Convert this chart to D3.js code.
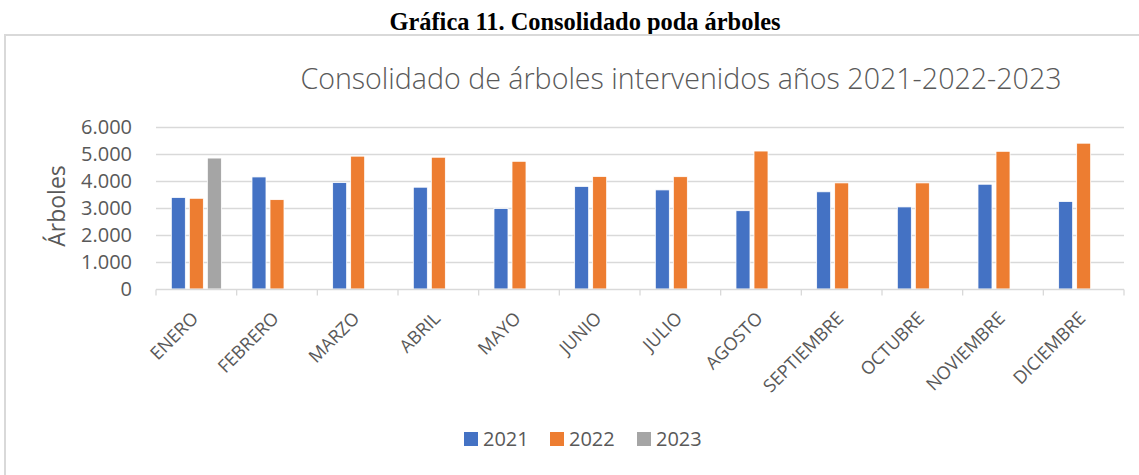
<!DOCTYPE html>
<html>
<head>
<meta charset="utf-8">
<script src="https://cdn.jsdelivr.net/npm/d3@7"></script>
<style>
  body { margin: 0; background: #fff; }
  svg { display: block; }
  .grid line { stroke: #d9d9d9; stroke-width: 1.3; }
  .tick text { fill: #595959; }
</style>
</head>
<body>
<div id="chart"></div>
<script>

/*
 * Chart data.
 */

var months = ['ENERO', 'FEBRERO', 'MARZO', 'ABRIL', 'MAYO', 'JUNIO', 'JULIO',
  'AGOSTO', 'SEPTIEMBRE', 'OCTUBRE', 'NOVIEMBRE', 'DICIEMBRE'];
var years = ['2021', '2022', '2023'];
var values2021 = [3390, 4150, 3940, 3770, 2980, 3800, 3670, 2900, 3600, 3040, 3880, 3240];
var values2022 = [3360, 3310, 4920, 4880, 4730, 4170, 4160, 5110, 3930, 3930, 5100, 5400];
var values2023 = [4850, null, null, null, null, null, null, null, null, null, null, null];
var yTicks = [0, 1000, 2000, 3000, 4000, 5000, 6000];
var colors = ['#4472C4', '#ED7D31', '#A5A5A5'];

var width = 1139;
var height = 475;

// Plot area.
var plot = { left: 156, right: 1124, top: 127, bottom: 289 };

var svg = d3.select('#chart').append('svg:svg')
  .attr('width', width)
  .attr('height', height);

// Page caption above the chart box.
svg.append('svg:text')
  .attr('x', 585)
  .attr('y', 30)
  .attr('text-anchor', 'middle')
  .style('font-family', '"Liberation Serif", "Times New Roman", serif')
  .style('font-weight', 'bold')
  .style('font-size', '24.4px')
  .text('Gráfica 11. Consolidado poda árboles');

// Chart box.
svg.append('svg:rect')
  .attr('x', 5)
  .attr('y', 35)
  .attr('width', 1145)
  .attr('height', 450)
  .attr('fill', 'none')
  .attr('stroke', '#d9d9d9')
  .attr('stroke-width', 2);

// Chart title.
svg.append('svg:text')
  .attr('x', 681)
  .attr('y', 89)
  .attr('text-anchor', 'middle')
  .style('font-family', '"Open Sans", sans-serif')
  .style('font-weight', 300)
  .style('font-size', '28.6px')
  .style('fill', '#595959')
  .text('Consolidado de árboles intervenidos años 2021-2022-2023');

/*
 * Scales.
 */

var x = d3.scaleBand()
  .domain(months)
  .range([plot.left, plot.right]);

var xInner = d3.scaleBand()
  .domain(years)
  .range([0, x.bandwidth()])
  .paddingInner(0.222)
  .paddingOuter(0.85);

var y = d3.scaleLinear()
  .domain([0, 6000])
  .range([plot.bottom, plot.top]);

var fmt = function(d) {
  return d3.format(',')(d).replace(/,/g, '.');
};

// Gridlines.
svg.append('svg:g')
  .attr('class', 'grid')
  .selectAll('line')
  .data(yTicks.filter(function(d) { return d > 0; }))
  .enter().append('svg:line')
  .attr('x1', plot.left)
  .attr('x2', plot.right)
  .attr('y1', function(d) { return Math.round(y(d)) + 0.5; })
  .attr('y2', function(d) { return Math.round(y(d)) + 0.5; });

// Y axis labels.
var yAxis = svg.append('svg:g')
  .attr('transform', 'translate(' + (plot.left - 24) + ',0)')
  .call(d3.axisLeft(y).tickValues(yTicks).tickFormat(fmt).tickSize(0).tickPadding(0));
yAxis.select('.domain').remove();
yAxis.selectAll('text')
  .style('font-family', '"Open Sans", sans-serif')
  .style('font-size', '20px');

// Y axis title.
svg.append('svg:text')
  .attr('transform', 'translate(65,206) rotate(-90)')
  .attr('text-anchor', 'middle')
  .style('font-family', '"Open Sans", sans-serif')
  .style('font-size', '23px')
  .style('fill', '#595959')
  .text('Árboles');

/*
 * Bars.
 */

var series = [values2021, values2022, values2023];

var groups = svg.append('svg:g')
  .selectAll('g')
  .data(months)
  .enter().append('svg:g')
  .attr('transform', function(d) { return 'translate(' + x(d) + ',0)'; });

groups.selectAll('rect')
  .data(function(m, i) {
    return years.map(function(yr, k) {
      return { year: yr, value: series[k][i], color: colors[k] };
    }).filter(function(d) { return d.value !== null; });
  })
  .enter().append('svg:rect')
  .attr('x', function(d) { return xInner(d.year); })
  .attr('width', xInner.bandwidth())
  .attr('y', function(d) { return y(d.value); })
  .attr('height', function(d) { return y(0) - y(d.value); })
  .attr('fill', function(d) { return d.color; })
  .attr('stroke', '#fff')
  .attr('stroke-width', 0.8);

// X axis line and ticks.
var xAxis = svg.append('svg:g')
  .attr('transform', 'translate(0,' + (plot.bottom + 0.5) + ')');

xAxis.append('svg:line')
  .attr('x1', plot.left)
  .attr('x2', plot.right)
  .attr('stroke', '#d9d9d9')
  .attr('stroke-width', 1.3);

xAxis.selectAll('line.tk')
  .data(months.concat(['end']))
  .enter().append('svg:line')
  .attr('class', 'tk')
  .attr('x1', function(d) { return d === 'end' ? plot.right : x(d); })
  .attr('x2', function(d) { return d === 'end' ? plot.right : x(d); })
  .attr('y1', 0)
  .attr('y2', 6)
  .attr('stroke', '#d9d9d9')
  .attr('stroke-width', 1.3);

// Month labels.
xAxis.selectAll('text')
  .data(months)
  .enter().append('svg:text')
  .attr('transform', function(d) {
    return 'translate(' + (x(d) + x.bandwidth() / 2 + 3) + ',30) rotate(-45)';
  })
  .attr('text-anchor', 'end')
  .style('font-family', '"Open Sans", sans-serif')
  .style('font-size', '18px')
  .style('fill', '#595959')
  .text(function(d) { return d; });

/*
 * Legend.
 */

var legendX = [464, 550, 637];

var legend = svg.append('svg:g')
  .selectAll('g')
  .data(years)
  .enter().append('svg:g')
  .attr('transform', function(d, i) { return 'translate(' + legendX[i] + ',432)'; });

legend.append('svg:rect')
  .attr('width', 14)
  .attr('height', 14)
  .attr('fill', function(d, i) { return colors[i]; });

legend.append('svg:text')
  .attr('x', 19)
  .attr('y', 14)
  .style('font-family', '"Open Sans", sans-serif')
  .style('font-size', '20px')
  .style('fill', '#595959')
  .text(function(d) { return d; });

</script>
</body>
</html>
